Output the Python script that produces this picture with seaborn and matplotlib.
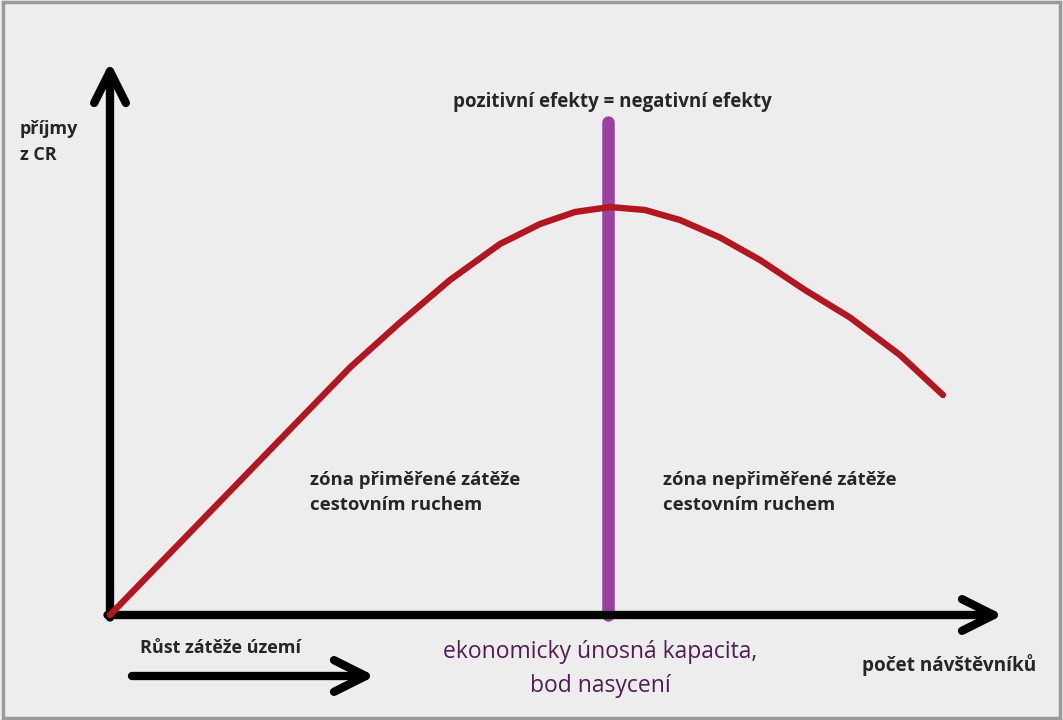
import pandas as pd
import seaborn as sns
import matplotlib.pyplot as plt
from matplotlib.patches import Rectangle

# schematic curve: revenue vs. number of visitors
visitors = [0.0, 1.6, 3.2, 4.8, 5.8, 6.8, 7.8, 8.6, 9.3, 10.0, 10.7, 11.4,
            12.2, 13.0, 13.9, 14.8, 15.8, 16.66]
revenue = [0.0, 1.65, 3.3, 4.95, 5.85, 6.7, 7.42, 7.82, 8.06, 8.16, 8.1, 7.9,
           7.55, 7.1, 6.5, 5.95, 5.2, 4.4]
saturation_x = 9.96
saturation_top = 9.86

curve = pd.DataFrame({"visitors": visitors, "revenue": revenue})

sns.set_theme(style="white")
plt.rcParams['font.family'] = ['Open Sans', 'DejaVu Sans']

fig = plt.figure(figsize=(10.63, 7.2), dpi=100)
fig.patch.set_facecolor("#ededed")
ax = fig.add_axes([0, 0, 1, 1])
ax.set_facecolor("#ededed")
ax.set_xlim(-2.2, 19.06)
ax.set_ylim(-2.1, 12.3)
ax.axis("off")

# frame around the picture
fig.patches.append(Rectangle((0.003, 0.003), 0.994, 0.994, transform=fig.transFigure,
                             fill=False, edgecolor="#9a9a9a", linewidth=2.5))

# axes with open arrow heads
arrow = dict(arrowstyle="->,head_length=1.9,head_width=0.95", color="black", lw=6,
             capstyle="round", joinstyle="round", shrinkA=0, shrinkB=0)
ax.annotate("", xy=(0, 11.06), xytext=(0, -0.05), arrowprops=arrow)
ax.annotate("", xy=(17.86, 0), xytext=(-0.05, 0), arrowprops=arrow)
ax.annotate("", xy=(5.3, -1.22), xytext=(0.44, -1.22), arrowprops=arrow)

# saturation line
ax.vlines(saturation_x, 0, saturation_top, color="#9b3fa0", linewidth=9,
          capstyle="round", zorder=2)

sns.lineplot(data=curve, x="visitors", y="revenue", ax=ax, color="#b3161f",
             linewidth=4.6, solid_capstyle="round", solid_joinstyle="round",
             zorder=3, sort=False)

ax.text(-1.8, 9.9, "příjmy\nz CR", fontsize=13, fontweight="bold", va="top",
        ha="left", linespacing=1.55)
ax.text(10.05, 10.25, "pozitivní efekty = negativní efekty", fontsize=13.5,
        fontweight="bold", ha="center", va="center")
ax.text(4.0, 2.45, "zóna přiměřené zátěže\ncestovním ruchem", fontsize=13.3,
        fontweight="bold", ha="left", va="center", linespacing=1.45)
ax.text(11.06, 2.45, "zóna nepřiměřené zátěže\ncestovním ruchem", fontsize=13.3,
        fontweight="bold", ha="left", va="center", linespacing=1.45)
ax.text(0.6, -0.66, "Růst zátěže území", fontsize=13, fontweight="bold",
        ha="left", va="center")
ax.text(9.8, -1.08, "ekonomicky únosná kapacita,\nbod nasycení", fontsize=16.5,
        color="#4f1d52", ha="center", va="center", linespacing=1.5)
ax.text(15.04, -1.0, "počet návštěvníků", fontsize=13.7, fontweight="bold",
        ha="left", va="center")

fig.savefig("out.png", dpi=100, facecolor=fig.get_facecolor())
